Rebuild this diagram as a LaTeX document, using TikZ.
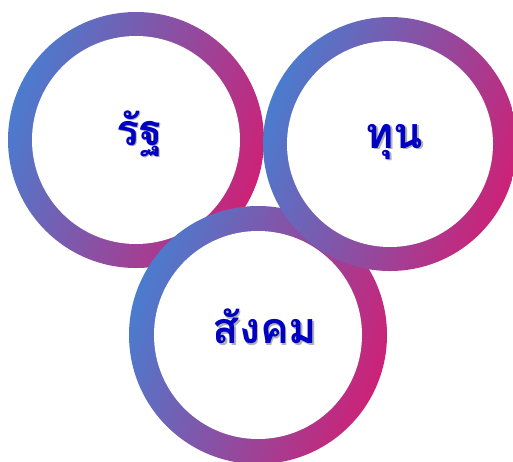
\documentclass[tikz,border=0pt]{standalone}
\usepackage{fontspec}
\newfontfamily\thaifont[Script=Thai]{Loma}
\definecolor{ringblue}{HTML}{4A7CCF}
\definecolor{ringpink}{HTML}{CC2277}
\definecolor{txtblue}{HTML}{0000C4}
\tikzset{
  ringouter/.style={left color=ringblue, right color=ringpink, shading angle=70},
  ringinner/.style={fill=white},
  label/.style={font=\thaifont\bfseries\fontsize{43}{47}\selectfont, text=txtblue, anchor=base, inner sep=0pt},
  labelshadow/.style={font=\thaifont\bfseries\fontsize{43}{47}\selectfont, text=black!30, anchor=base, inner sep=0pt}
}
\begin{document}
\begin{tikzpicture}[x=1pt,y=-1pt]
\useasboundingbox (0,0) rectangle (513,461);
\clip (0,0) rectangle (513,461);
% circle 1
\coordinate (c1) at (136,140);
\shade[ringouter] (c1) circle (128);
\fill[ringinner] (c1) circle (104);
% circle 3
\coordinate (c3) at (258,335);
\shade[ringouter] (c3) circle (129);
\fill[ringinner] (c3) circle (104);
% circle 2
\coordinate (c2) at (390,144);
\shade[ringouter] (c2) circle (127);
\fill[ringinner] (c2) circle (103);
% labels
\node[labelshadow] (s1) at (141,146.5) {รัฐ};
\node[label] (t1) at (139.5,145) {รัฐ};
\node[labelshadow] (s2) at (396,149.5) {ทุน};
\node[label] (t2) at (394.5,148) {ทุน};
\node[labelshadow] (s3) at (266.5,345) {สังคม};
\node[label] (t3) at (265,343.5) {สังคม};
\end{tikzpicture}
\end{document}
